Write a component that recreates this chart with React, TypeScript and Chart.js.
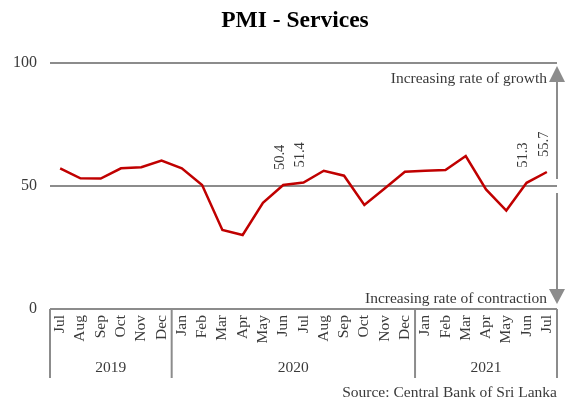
import React, { useEffect, useRef } from "react";
import { Chart, registerables } from "chart.js";
Chart.register(...registerables);

const months = ["Jul","Aug","Sep","Oct","Nov","Dec","Jan","Feb","Mar","Apr","May","Jun","Jul","Aug","Sep","Oct","Nov","Dec","Jan","Feb","Mar","Apr","May","Jun","Jul"];
const years = ["2019", "2020", "2021"];
const yearSpans = [6, 12, 7];
const pmi = [57.2, 53.1, 53.0, 57.2, 57.6, 60.3, 57.2, 50.4, 32.1, 30.1, 43.2, 50.4, 51.4, 56.2, 54.2, 42.3, 49.0, 55.8, 56.2, 56.5, 62.2, 48.6, 40.0, 51.3, 55.7];
const labelledIdx = [11, 12, 23, 24];
const yTicks = [0, 50, 100];
const title = "PMI - Services";
const growthText = "Increasing rate of growth";
const contractionText = "Increasing rate of contraction";
const sourceText = "Source: Central Bank of Sri Lanka";

const FONT = "'Liberation Serif', 'DejaVu Serif', serif";
const GRAY = "#8c8c8c";
const TEXT = "#3a3a3a";

const overlay = {
  id: "overlay",
  afterDraw(chart: any) {
    const { ctx, chartArea: a, scales } = chart;
    const x = scales.x;
    const y = scales.y;
    const step = x.getPixelForValue(1) - x.getPixelForValue(0);
    ctx.save();
    // title
    ctx.fillStyle = "#000";
    ctx.font = `bold 23.5px ${FONT}`;
    ctx.textAlign = "center";
    ctx.textBaseline = "middle";
    ctx.fillText(title, 295, 21);

    // axis box lines
    ctx.strokeStyle = GRAY;
    ctx.lineWidth = 2;
    let k = 0;
    const edges = [0];
    yearSpans.forEach((s) => { k += s; edges.push(k); });
    edges.forEach((e) => {
      const px = x.getPixelForValue(0) - step / 2 + e * step;
      ctx.beginPath();
      ctx.moveTo(px, a.bottom);
      ctx.lineTo(px, a.bottom + 69);
      ctx.stroke();
    });

    // month labels
    ctx.fillStyle = TEXT;
    ctx.font = `15.5px ${FONT}`;
    months.forEach((m, i) => {
      const px = x.getPixelForValue(i);
      ctx.save();
      ctx.translate(px, a.bottom + 6);
      ctx.rotate(-Math.PI / 2);
      ctx.textAlign = "right";
      ctx.textBaseline = "middle";
      ctx.fillText(m, 0, 0);
      ctx.restore();
    });
    // year labels
    ctx.textAlign = "center";
    ctx.textBaseline = "middle";
    ctx.font = `15.5px ${FONT}`;
    years.forEach((yr, j) => {
      const l = x.getPixelForValue(0) - step / 2 + edges[j] * step;
      const r = x.getPixelForValue(0) - step / 2 + edges[j + 1] * step;
      ctx.fillText(yr, (l + r) / 2, a.bottom + 59);
    });

    // data labels
    ctx.font = `14.5px ${FONT}`;
    ctx.fillStyle = TEXT;
    labelledIdx.forEach((i) => {
      const px = x.getPixelForValue(i);
      const py = y.getPixelForValue(pmi[i]);
      ctx.save();
      ctx.translate(px - 3, py - 15);
      ctx.rotate(-Math.PI / 2);
      ctx.textAlign = "left";
      ctx.textBaseline = "middle";
      ctx.fillText(pmi[i].toFixed(1), 0, 0);
      ctx.restore();
    });

    // arrows
    const ax = a.right;
    const y50 = y.getPixelForValue(50);
    const y100 = y.getPixelForValue(100);
    const y0 = y.getPixelForValue(0);
    ctx.strokeStyle = GRAY;
    ctx.fillStyle = GRAY;
    ctx.lineWidth = 2;
    ctx.beginPath();
    ctx.moveTo(ax, y50 - 7);
    ctx.lineTo(ax, y100 + 16);
    ctx.stroke();
    ctx.beginPath();
    ctx.moveTo(ax, y100 + 3);
    ctx.lineTo(ax - 8, y100 + 19);
    ctx.lineTo(ax + 8, y100 + 19);
    ctx.closePath();
    ctx.fill();
    ctx.beginPath();
    ctx.moveTo(ax, y50 + 7);
    ctx.lineTo(ax, y0 - 18);
    ctx.stroke();
    ctx.beginPath();
    ctx.moveTo(ax, y0 - 5);
    ctx.lineTo(ax - 8, y0 - 20);
    ctx.lineTo(ax + 8, y0 - 20);
    ctx.closePath();
    ctx.fill();

    ctx.fillStyle = TEXT;
    ctx.font = `15.5px ${FONT}`;
    ctx.textAlign = "right";
    ctx.textBaseline = "middle";
    ctx.fillText(growthText, ax - 10, y100 + 16);
    ctx.fillText(contractionText, ax - 10, y0 - 10);
    ctx.fillText(sourceText, ax, a.bottom + 84);
    ctx.restore();
  },
};

export default function App() {
  const ref = useRef<HTMLCanvasElement>(null);
  useEffect(() => {
    if (!ref.current) return;
    const chart = new Chart(ref.current, {
      type: "line",
      data: {
        labels: months,
        datasets: [
          {
            data: pmi,
            borderColor: "#C00000",
            borderWidth: 2.5,
            pointRadius: 0,
            tension: 0,
            fill: false,
          },
        ],
      },
      options: {
        animation: false,
        responsive: false,
        layout: { padding: { top: 63, right: 16, bottom: 92, left: 0 } },
        plugins: { legend: { display: false }, title: { display: false }, tooltip: { enabled: false } },
        scales: {
          x: { type: "category", offset: true, display: false },
          y: {
            min: 0,
            max: 100,
            afterBuildTicks: (s: any) => { s.ticks = yTicks.map((v) => ({ value: v })); },
            afterFit: (s: any) => { s.width = 50; },
            border: { display: false },
            grid: { color: GRAY, lineWidth: 2, drawTicks: false },
            ticks: { padding: 13, color: TEXT, font: { family: FONT, size: 16 } },
          },
        },
      },
      plugins: [overlay],
    } as any);
    return () => chart.destroy();
  }, []);
  return (
    <div style={{ position: "fixed", left: 0, top: 0, width: 573, height: 401, background: "#fff" }}>
      <canvas ref={ref} width={573} height={401} />
    </div>
  );
}
